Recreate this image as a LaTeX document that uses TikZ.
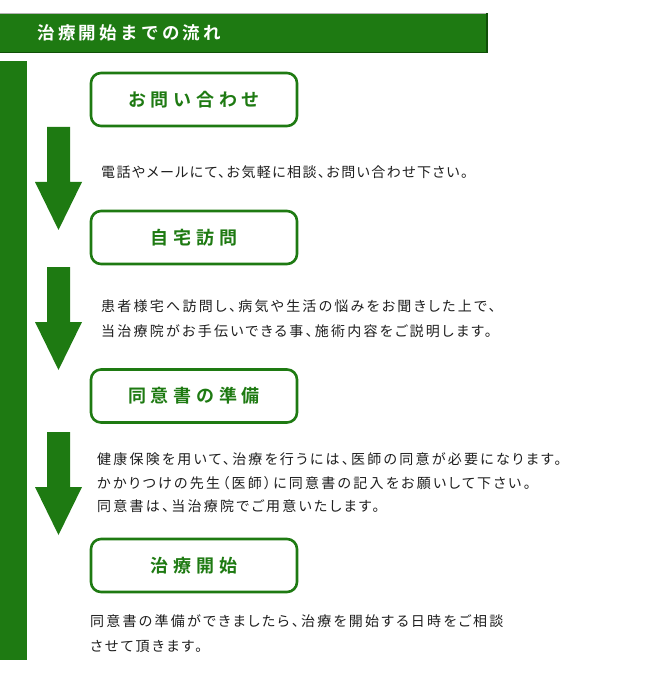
\documentclass[tikz,border=0pt]{standalone}
\usepackage{fontspec}
\newfontfamily\cjk[LetterSpace=16,RawFeature=+palt]{Noto Sans CJK JP}
\newfontfamily\cjknarrow[LetterSpace=10,RawFeature=+palt]{Noto Sans CJK JP}
\newfontfamily\cjkb[LetterSpace=26]{Noto Sans CJK JP Bold}
\newfontfamily\cjkh[LetterSpace=19]{Noto Sans CJK JP Bold}
\definecolor{fgreen}{RGB}{30,122,18}
\definecolor{dgreen}{RGB}{16,80,8}
\definecolor{txt}{RGB}{30,30,30}
\tikzset{
  stepbox/.style={draw=fgreen, line width=2.6pt, rounded corners=10pt, minimum width=206pt, minimum height=53pt, inner sep=0pt, text=fgreen, font=\cjkb\fontsize{18}{20}\selectfont},
  desc/.style={anchor=west, inner sep=0pt, text=txt, font=\cjk\fontsize{14}{16}\selectfont},
  descnarrow/.style={desc, font=\cjknarrow\fontsize{14}{16}\selectfont},
  flowarrow/.style={fill=fgreen, draw=none}
}
\begin{document}
\begin{tikzpicture}[x=1pt,y=-1pt]
\useasboundingbox (0,0) rectangle (650,700);
% header
\fill[fgreen] (0,13) rectangle (487,53);
\draw[gray!60, line width=1pt] (0,13.5) -- (487,13.5);
\draw[dgreen, line width=1.2pt] (0,52.4) -- (487,52.4) -- (487,13);
\node[anchor=west, inner sep=0pt, text=white, font=\cjkh\fontsize{17.5}{19}\selectfont] (title) at (37,33) {治療開始までの流れ};
% left bar
\fill[fgreen] (0,61) rectangle (27,660);
% boxes
\node[stepbox] (s1) at (194,99.5) {お問い合わせ};
\node[stepbox] (s2) at (194,237.5) {自宅訪問};
\node[stepbox] (s3) at (194,396) {同意書の準備};
\node[stepbox] (s4) at (194,565.5) {治療開始};
% arrows
\fill[flowarrow] (47,127) -- (70,127) -- (70,182) -- (82,182) -- (58.5,230) -- (35,182) -- (47,182) -- cycle;
\fill[flowarrow] (47,267) -- (70,267) -- (70,322) -- (82,322) -- (58.5,370) -- (35,322) -- (47,322) -- cycle;
\fill[flowarrow] (47,432) -- (70,432) -- (70,487) -- (82,487) -- (58.5,535) -- (35,487) -- (47,487) -- cycle;
% descriptions
\node[descnarrow] (t1) at (101,172) {電話やメールにて、お気軽に相談、お問い合わせ下さい。};
\node[desc] (t2a) at (101,306) {患者様宅へ訪問し、病気や生活の悩みをお聞きした上で、};
\node[desc] (t2b) at (101,331) {当治療院がお手伝いできる事、施術内容をご説明します。};
\node[desc] (t3a) at (97,459) {健康保険を用いて、治療を行うには、医師の同意が必要になります。};
\node[desc] (t3b) at (97,483) {かかりつけの先生（医師）に同意書の記入をお願いして下さい。};
\node[desc] (t3c) at (97,506) {同意書は、当治療院でご用意いたします。};
\node[desc] (t4a) at (90,621) {同意書の準備ができましたら、治療を開始する日時をご相談};
\node[desc] (t4b) at (90,646) {させて頂きます。};
\end{tikzpicture}
\end{document}
